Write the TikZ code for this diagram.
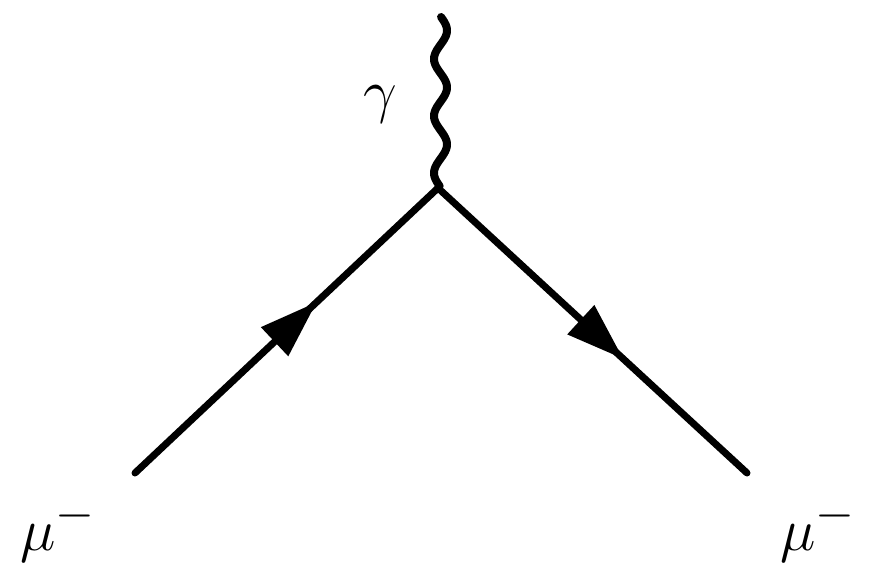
\documentclass[tikz,border=0pt]{standalone}
\usepackage{graphicx}
\usetikzlibrary{arrows.meta,decorations.markings}
\newcommand{\biglbl}[1]{\scalebox{2.41}{\Huge #1}}
\begin{document}
\begin{tikzpicture}[x=1pt,y=-1pt,
  fermion/.style={line width=7pt,line cap=round,
    postaction={decorate},
    decoration={markings,mark=at position 0.6 with {\arrow{Triangle[length=58pt,width=38pt]}}}},
  photon/.style={line width=8pt,line cap=round,line join=round},
  lbl/.style={inner sep=0pt,anchor=base west}]
\useasboundingbox (0,0) rectangle (872,578);
\coordinate (a) at (135,473);
\coordinate (v) at (438,188);
\coordinate (b) at (747,473);
\coordinate (g) at (443,17);
\draw[fermion] (a) -- (v);
\draw[fermion] (v) -- (b);
\draw[photon] (v) -- plot[domain=186:17,samples=120,smooth] ({440.5-6.5*cos(6.3158*(\x-173))},\x);
\node[lbl] (la) at (20,550) {\biglbl{$\mu^-$}};
\node[lbl] (lb) at (780,550) {\biglbl{$\mu^-$}};
\node[lbl] (lg) at (363,111) {\biglbl{$\gamma$}};
\end{tikzpicture}
\end{document}
